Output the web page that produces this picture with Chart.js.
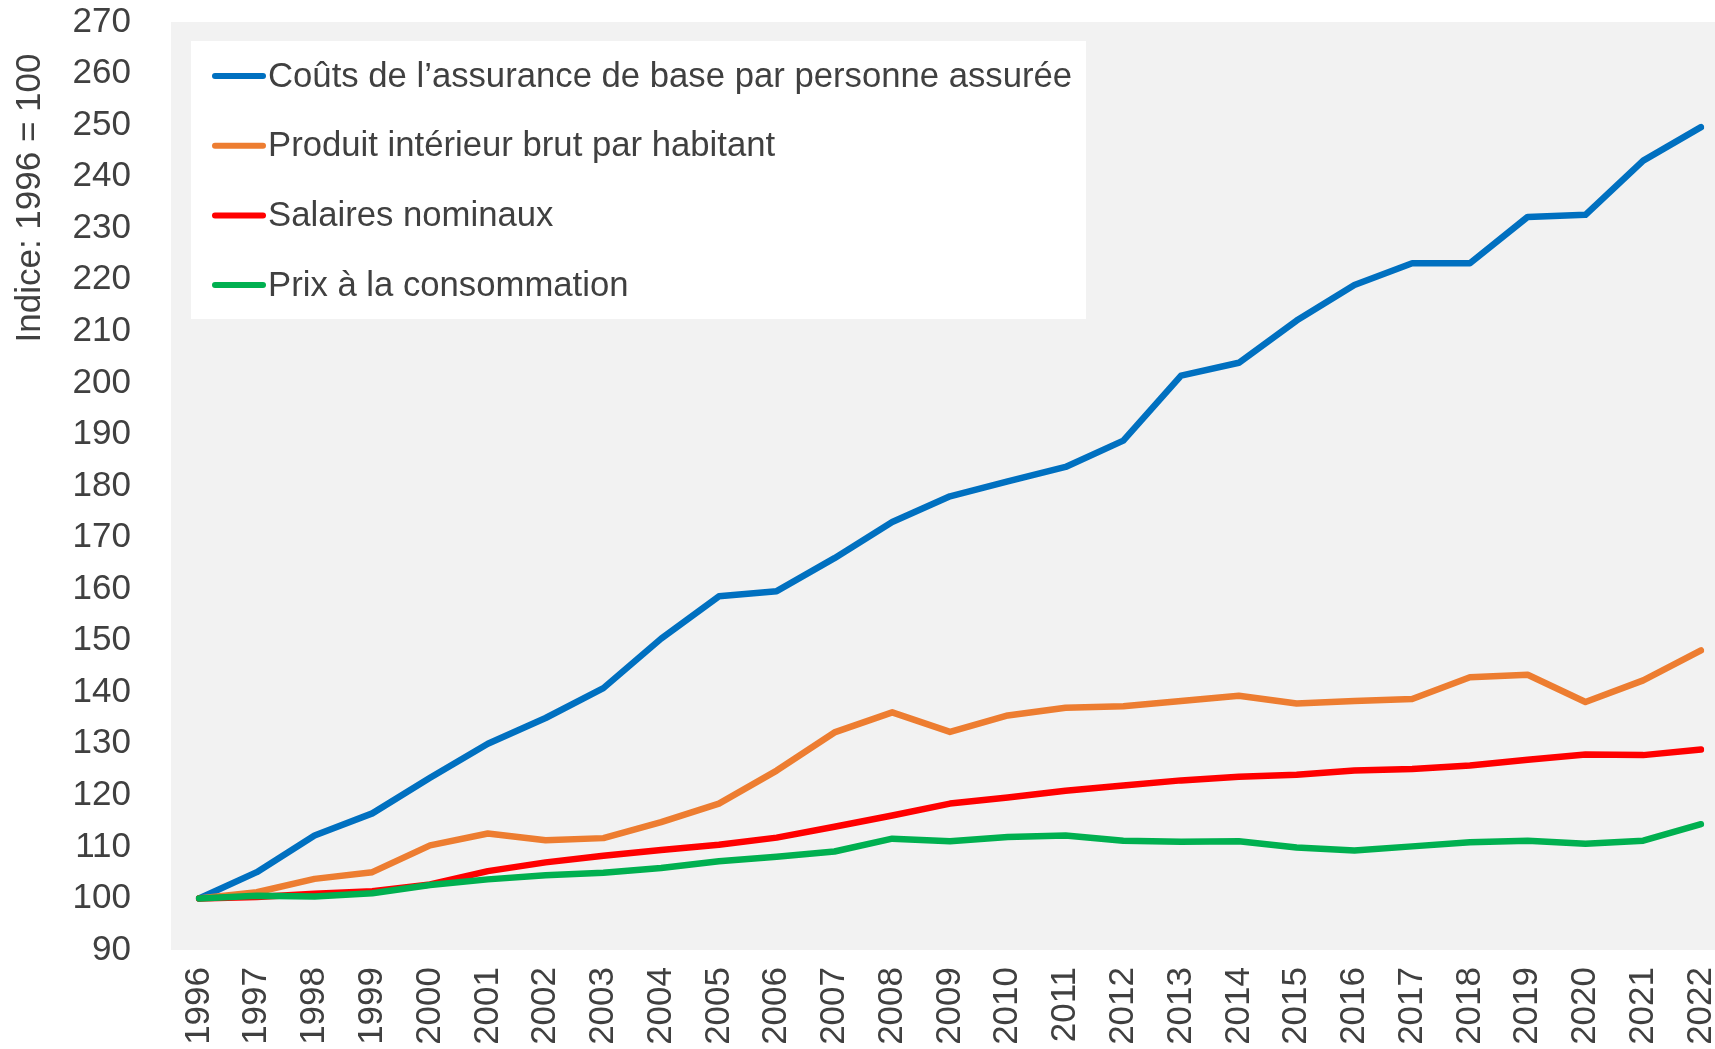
<!DOCTYPE html>
<html>
<head>
  <title>Indice 1996 = 100</title>
  <script src="https://cdn.jsdelivr.net/npm/chart.js"></script>
  <style>
    body { margin: 0; background: #fff; }
    canvas { display: block; }
  </style>
</head>
<body>
  <canvas id="indexChart" width="1715" height="1049"></canvas>

  <script>
    const years = ['1996', '1997', '1998', '1999', '2000', '2001', '2002', '2003', '2004',
      '2005', '2006', '2007', '2008', '2009', '2010', '2011', '2012', '2013', '2014',
      '2015', '2016', '2017', '2018', '2019', '2020', '2021', '2022'];

    const coutsAssurance = [100, 105.1, 112.2, 116.5, 123.4, 130.0, 135.0, 140.8, 150.4,
      158.6, 159.6, 166.0, 173.0, 178.0, 180.9, 183.7, 188.8, 201.4, 203.9,
      212.1, 219.0, 223.2, 223.2, 232.2, 232.6, 243.1, 249.6];

    const pibHabitant = [100, 101.2, 103.8, 105.1, 110.3, 112.6, 111.3, 111.7, 114.8,
      118.4, 124.8, 132.2, 136.1, 132.3, 135.5, 137.0, 137.3, 138.3, 139.3,
      137.8, 138.3, 138.7, 142.9, 143.4, 138.1, 142.3, 148.1];

    const salairesNominaux = [100, 100.3, 100.9, 101.4, 102.7, 105.3, 107.0, 108.3, 109.4,
      110.4, 111.8, 113.9, 116.1, 118.4, 119.6, 120.9, 121.9, 122.9, 123.6,
      124.0, 124.8, 125.1, 125.8, 126.9, 127.9, 127.8, 128.9];

    const prixConsommation = [100, 100.5, 100.4, 101.0, 102.6, 103.7, 104.5, 105.0, 105.9,
      107.2, 108.1, 109.1, 111.6, 111.1, 111.9, 112.2, 111.2, 111.0, 111.1,
      109.9, 109.3, 110.1, 110.9, 111.2, 110.6, 111.2, 114.4];

    const seriesNames = [
      'Coûts de l’assurance de base par personne assurée',
      'Produit intérieur brut par habitant',
      'Salaires nominaux',
      'Prix à la consommation'
    ];
    const seriesColors = ['#0070C0', '#ED7D31', '#FF0000', '#00B050'];
    const yTitle = 'Indice: 1996 = 100';

    const textColor = '#404040';
    const fontFamily = '"Liberation Sans", Arial, sans-serif';
    const fontSize = 35;

    // grey plot background, a bit wider than the chart area on the left
    const plotBackground = {
      id: 'plotBackground',
      beforeDraw(chart) {
        const { ctx, chartArea } = chart;
        ctx.save();
        ctx.fillStyle = '#F2F2F2';
        ctx.fillRect(chartArea.left - 28, chartArea.top, chart.width - chartArea.left + 28, chartArea.bottom - chartArea.top);
        ctx.restore();
      }
    };

    // legend box in the top left of the plot, plus the rotated axis title
    const boxLegend = {
      id: 'boxLegend',
      afterDraw(chart) {
        const { ctx } = chart;
        ctx.save();
        ctx.fillStyle = '#FFFFFF';
        ctx.fillRect(191, 41, 895, 278);

        ctx.font = '34.7px ' + fontFamily;
        ctx.textBaseline = 'middle';
        ctx.textAlign = 'left';
        chart.data.datasets.forEach((ds, i) => {
          const y = 76 + i * 69.7;
          ctx.strokeStyle = ds.borderColor;
          ctx.lineWidth = 6;
          ctx.lineCap = 'round';
          ctx.beginPath();
          ctx.moveTo(215, y);
          ctx.lineTo(263, y);
          ctx.stroke();
          ctx.fillStyle = textColor;
          ctx.fillText(ds.label, 268, y + 1);
        });

        ctx.font = fontSize + 'px ' + fontFamily;
        ctx.translate(30, 198);
        ctx.rotate(-Math.PI / 2);
        ctx.textAlign = 'center';
        ctx.fillText(yTitle, 0, 0);
        ctx.restore();
      }
    };

    const seriesData = [coutsAssurance, pibHabitant, salairesNominaux, prixConsommation];

    new Chart(document.getElementById('indexChart'), {
      type: 'line',
      data: {
        labels: years,
        datasets: seriesData.map((values, i) => ({
          label: seriesNames[i],
          data: values,
          order: seriesData.length - i,
          borderColor: seriesColors[i],
          backgroundColor: seriesColors[i],
          borderWidth: 6.5,
          borderCapStyle: 'round',
          borderJoinStyle: 'round',
          pointRadius: 0,
          tension: 0,
          fill: false
        }))
      },
      options: {
        responsive: false,
        animation: false,
        layout: { padding: { top: 22, right: 14, left: 0, bottom: 0 } },
        plugins: {
          legend: { display: false },
          tooltip: { enabled: false }
        },
        scales: {
          x: {
            offset: false,
            grid: { display: false, drawTicks: false },
            border: { display: false },
            ticks: {
              autoSkip: false,
              minRotation: 90,
              maxRotation: 90,
              padding: 17,
              color: textColor,
              font: { family: fontFamily, size: fontSize }
            },
            afterFit(scale) {
              scale.height = 99;
              scale.paddingLeft = 0;
              scale.paddingRight = 0;
            }
          },
          y: {
            min: 90,
            max: 270,
            grid: { display: false, drawTicks: false },
            border: { display: false },
            ticks: {
              stepSize: 10,
              padding: 68,
              color: textColor,
              font: { family: fontFamily, size: fontSize }
            },
            afterFit(scale) {
              scale.width = 199;
              scale.paddingTop = 0;
              scale.paddingBottom = 0;
            }
          }
        }
      },
      plugins: [plotBackground, boxLegend]
    });
  </script>
</body>
</html>
